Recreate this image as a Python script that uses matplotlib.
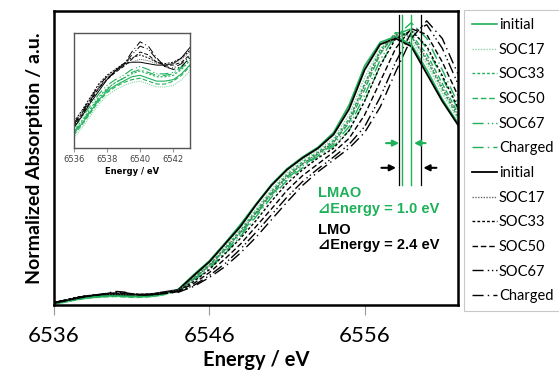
import matplotlib
matplotlib.use('Agg')
import matplotlib.pyplot as plt
import numpy as np

# energy grids (eV): fine grid for the pre-edge, 1 eV steps across the edge
pre_energy = [6536.0, 6536.5, 6537.0, 6537.5, 6538.0, 6538.5, 6539.0, 6539.5,
              6540.0, 6540.5, 6541.0, 6541.5, 6542.0, 6542.5, 6543.0]
edge_energy = [6544, 6545, 6546, 6547, 6548, 6549, 6550, 6551, 6552, 6553,
               6554, 6555, 6556, 6557, 6558, 6559, 6560, 6561, 6562]

labels = ["initial", "SOC17", "SOC33", "SOC50", "SOC67", "Charged"]

# LMAO (green)
lmao_pre = [
    [0.006, 0.013, 0.021, 0.029, 0.035, 0.039, 0.042, 0.045, 0.046, 0.044, 0.042, 0.042, 0.043, 0.047, 0.053],
    [0.003, 0.010, 0.018, 0.026, 0.032, 0.036, 0.039, 0.041, 0.042, 0.040, 0.038, 0.038, 0.039, 0.043, 0.049],
    [0.008, 0.015, 0.023, 0.031, 0.037, 0.041, 0.044, 0.047, 0.049, 0.047, 0.045, 0.045, 0.046, 0.050, 0.056],
    [0.005, 0.012, 0.020, 0.028, 0.034, 0.038, 0.041, 0.043, 0.044, 0.042, 0.040, 0.040, 0.042, 0.046, 0.052],
    [0.010, 0.017, 0.025, 0.033, 0.039, 0.043, 0.046, 0.050, 0.052, 0.050, 0.047, 0.047, 0.048, 0.052, 0.058],
    [0.007, 0.014, 0.022, 0.030, 0.036, 0.041, 0.044, 0.048, 0.050, 0.048, 0.046, 0.046, 0.047, 0.051, 0.057],
]
lmao_edge = [
    [0.080, 0.155, 0.225, 0.315, 0.41, 0.515, 0.615, 0.695, 0.755, 0.805, 0.88, 1.02, 1.22, 1.34, 1.37, 1.33, 1.20, 1.05, 0.93],
    [0.075, 0.145, 0.210, 0.300, 0.39, 0.490, 0.590, 0.675, 0.740, 0.790, 0.85, 0.97, 1.16, 1.31, 1.38, 1.35, 1.23, 1.08, 0.95],
    [0.075, 0.140, 0.205, 0.290, 0.38, 0.480, 0.580, 0.665, 0.730, 0.780, 0.84, 0.95, 1.13, 1.30, 1.39, 1.37, 1.25, 1.10, 0.96],
    [0.072, 0.135, 0.200, 0.280, 0.37, 0.470, 0.570, 0.655, 0.720, 0.770, 0.83, 0.93, 1.10, 1.28, 1.39, 1.38, 1.28, 1.13, 0.98],
    [0.070, 0.130, 0.190, 0.270, 0.36, 0.460, 0.560, 0.645, 0.710, 0.765, 0.82, 0.91, 1.07, 1.25, 1.38, 1.41, 1.31, 1.16, 1.00],
    [0.068, 0.125, 0.185, 0.260, 0.35, 0.450, 0.550, 0.635, 0.700, 0.760, 0.81, 0.89, 1.04, 1.22, 1.37, 1.44, 1.36, 1.20, 1.03],
]

# LMO (black)
lmo_pre = [
    [0.010, 0.018, 0.027, 0.035, 0.043, 0.049, 0.054, 0.055, 0.055, 0.054, 0.053, 0.053, 0.054, 0.058, 0.065],
    [0.012, 0.020, 0.029, 0.038, 0.045, 0.050, 0.053, 0.055, 0.057, 0.056, 0.054, 0.053, 0.054, 0.057, 0.062],
    [0.014, 0.022, 0.031, 0.040, 0.046, 0.050, 0.054, 0.058, 0.060, 0.058, 0.055, 0.054, 0.055, 0.058, 0.063],
    [0.011, 0.019, 0.028, 0.037, 0.043, 0.048, 0.052, 0.057, 0.062, 0.060, 0.055, 0.053, 0.053, 0.055, 0.060],
    [0.013, 0.021, 0.030, 0.039, 0.045, 0.049, 0.053, 0.060, 0.066, 0.064, 0.057, 0.052, 0.051, 0.054, 0.059],
    [0.012, 0.020, 0.029, 0.037, 0.044, 0.048, 0.053, 0.062, 0.069, 0.066, 0.058, 0.052, 0.050, 0.052, 0.058],
]
lmo_edge = [
    [0.077, 0.150, 0.220, 0.310, 0.400, 0.510, 0.610, 0.690, 0.750, 0.800, 0.870, 1.00, 1.20, 1.33, 1.36, 1.32, 1.18, 1.04, 0.92],
    [0.075, 0.135, 0.200, 0.285, 0.370, 0.470, 0.570, 0.655, 0.720, 0.775, 0.830, 0.94, 1.12, 1.29, 1.38, 1.37, 1.26, 1.11, 0.97],
    [0.072, 0.120, 0.180, 0.260, 0.340, 0.430, 0.530, 0.620, 0.690, 0.750, 0.800, 0.89, 1.04, 1.22, 1.36, 1.40, 1.32, 1.17, 1.01],
    [0.070, 0.110, 0.165, 0.235, 0.310, 0.400, 0.490, 0.585, 0.660, 0.720, 0.780, 0.85, 0.97, 1.14, 1.31, 1.41, 1.38, 1.24, 1.07],
    [0.068, 0.100, 0.150, 0.210, 0.285, 0.370, 0.460, 0.550, 0.630, 0.695, 0.755, 0.82, 0.91, 1.06, 1.24, 1.39, 1.43, 1.31, 1.13],
    [0.065, 0.095, 0.140, 0.195, 0.265, 0.345, 0.435, 0.525, 0.610, 0.680, 0.740, 0.80, 0.88, 1.01, 1.19, 1.36, 1.45, 1.36, 1.18],
]

# peak markers (eV)
green_peaks = [6558.4, 6559.0]
black_peaks = [6558.2, 6559.6]

green = '#1fb15a'
green_light = '#8ad6a6'
styles = ['-', (0, (1, 1)), (0, (2, 1.5)), (0, (4, 2)), (0, (8, 3, 1, 2, 1, 2)), (0, (8, 3, 1, 3))]
green_cols = [green, green_light, green, green, green, green]
black_cols = ['black', '#666666', 'black', 'black', 'black', 'black']

energy = pre_energy + edge_energy

fig = plt.figure(figsize=(5.59, 3.74), dpi=100)
ax = fig.add_axes([0.0966, 0.1845, 0.7224, 0.786])
ins = fig.add_axes([0.132, 0.604, 0.2075, 0.3075])

handles = []
for i in range(6):
    y = lmao_pre[i] + lmao_edge[i]
    h, = ax.plot(energy, y, color=green_cols[i], ls=styles[i], lw=1.2 if i == 0 else 1.0, label=labels[i])
    ins.plot(energy, y, color=green_cols[i], ls=styles[i], lw=0.8)
    handles.append(h)
for i in range(6):
    y = lmo_pre[i] + lmo_edge[i]
    h, = ax.plot(energy, y, color=black_cols[i], ls=styles[i], lw=1.3 if i == 0 else 1.0, label=labels[i])
    ins.plot(energy, y, color=black_cols[i], ls=styles[i], lw=0.7)
    handles.append(h)

for e in green_peaks:
    ax.plot([e, e], [0.61, 1.48], color=green, lw=1.0)
for e in black_peaks:
    ax.plot([e, e], [0.61, 1.48], color='black', lw=0.9)

arrow = dict(arrowstyle='-|>', lw=1.5, mutation_scale=9)
ax.annotate('', xy=(green_peaks[0], 0.826), xytext=(6557.2, 0.826), arrowprops=dict(arrow, color=green))
ax.annotate('', xy=(green_peaks[1], 0.826), xytext=(6560.1, 0.826), arrowprops=dict(arrow, color=green))
ax.annotate('', xy=(black_peaks[0], 0.70), xytext=(6556.9, 0.70), arrowprops=dict(arrow, color='black'))
ax.annotate('', xy=(black_peaks[1], 0.70), xytext=(6560.8, 0.70), arrowprops=dict(arrow, color='black'))

tfont = dict(family=['Liberation Sans', 'DejaVu Sans'], fontweight='bold', fontsize=10.5)
ax.text(6553.0, 0.573, 'LMAO', color=green, va='center', **tfont)
ax.text(6553.0, 0.490, '⊿Energy = 1.0 eV', color=green, va='center', **tfont)
ax.text(6553.0, 0.383, 'LMO', color='black', va='center', **tfont)
ax.text(6553.0, 0.306, '⊿Energy = 2.4 eV', color='black', va='center', **tfont)

ax.set_xlim(6536, 6562)
ax.set_ylim(0, 1.5)
ax.set_xticks([6536, 6546, 6556])
ax.set_yticks([])
ax.tick_params(axis='x', direction='out', length=7, color='#999999', labelsize=16, pad=8)
for lab in ax.get_xticklabels():
    lab.set_family('Lato')
for s in ax.spines.values():
    s.set_linewidth(1.8)
ax.set_xlabel('Energy / eV', fontsize=14.5, fontweight='bold', family='Lato', labelpad=3)
ax.set_ylabel('Normalized Absorption / a.u.', fontsize=14, fontweight='bold', family='Lato', labelpad=8)

ins.set_xlim(6536, 6543)
ins.set_ylim(-0.004, 0.075)
ins.set_xticks([6536, 6538, 6540, 6542])
ins.set_yticks([])
ins.tick_params(axis='x', direction='out', length=3, color='#999999', labelsize=6, labelcolor='#444444', pad=2)
for s in ins.spines.values():
    s.set_color('#555555')
    s.set_linewidth(1.0)
ins.set_xlabel('Energy / eV', fontsize=6, fontweight='bold', labelpad=2)

leg = fig.legend(handles=handles, loc='upper left', bbox_to_anchor=(0.83, 0.973),
                 prop={'family': 'Lato', 'size': 10.5}, frameon=True, fancybox=False,
                 handlelength=1.7, handletextpad=0.15, labelspacing=0.73, borderpad=0.55,
                 borderaxespad=0.0)
leg.get_frame().set_edgecolor('#bbbbbb')
leg.get_frame().set_linewidth(0.8)

fig.savefig('out.png', dpi=100)
